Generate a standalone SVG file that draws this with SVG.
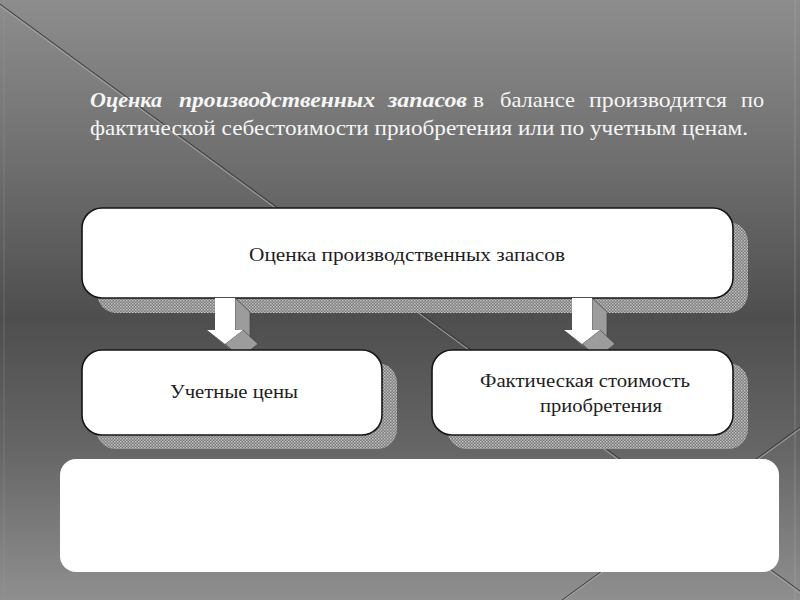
<svg xmlns="http://www.w3.org/2000/svg" width="800" height="600" viewBox="0 0 800 600">
<defs>
<linearGradient id="bg" x1="0" y1="0" x2="0" y2="1">
<stop offset="0" stop-color="#8d8d8d"/>
<stop offset="0.25" stop-color="#717171"/>
<stop offset="0.53" stop-color="#4e4e4e"/>
<stop offset="0.75" stop-color="#666"/>
<stop offset="1" stop-color="#8f8f8f"/>
</linearGradient>
<pattern id="dots" width="3" height="3" patternUnits="userSpaceOnUse">
<rect width="3" height="3" fill="#7a7a7a"/>
<rect width="1.5" height="1.5" fill="#c4c4c4"/>
<rect x="1.5" y="1.5" width="1.5" height="1.5" fill="#b0b0b0"/>
</pattern>
<style>
.box{fill:#fff;stroke:#151515;stroke-width:1.6}
.shadow{fill:url(#dots)}
.lbl{font-family:"Liberation Serif","Times New Roman",serif;font-size:19px;fill:#1e1e1e}
.head{font-family:"Liberation Serif","Times New Roman",serif;font-size:22px;fill:#f6f6f6}
.bi{font-weight:bold;font-style:italic}
.front{fill:#fff}
.side{fill:#9c9c9c;stroke:#3a3a3a;stroke-width:0.6}
.bottom{fill:#6f6f6f;stroke:#3a3a3a;stroke-width:0.6}
.dl{stroke:#3c3c3c;stroke-width:1}
.ll{stroke:#a5a5a5;stroke-width:1}
</style>
</defs>
<rect width="800" height="600" fill="url(#bg)"/>
<line x1="4" y1="0" x2="4" y2="600" stroke="#9a9a9a" stroke-opacity="0.35"/>
<line x1="795" y1="0" x2="795" y2="600" stroke="#b0b0b0" stroke-opacity="0.4"/>
<g id="decor">
<line class="dl" x1="0" y1="4" x2="800" y2="591"/>
<line class="ll" x1="0" y1="6" x2="800" y2="593"/>
<line class="dl" x1="562" y1="600" x2="800" y2="427"/>
<line class="ll" x1="564" y1="600" x2="800" y2="429"/>
</g>
<g id="heading">
<text class="head bi" x="90" y="107" textLength="72" lengthAdjust="spacingAndGlyphs">Оценка</text>
<text class="head bi" x="179" y="107" textLength="196" lengthAdjust="spacingAndGlyphs">производственных</text>
<text class="head bi" x="388" y="107" textLength="79" lengthAdjust="spacingAndGlyphs">запасов</text>
<text class="head" x="473" y="107" textLength="11" lengthAdjust="spacingAndGlyphs">в</text>
<text class="head" x="500" y="107" textLength="75" lengthAdjust="spacingAndGlyphs">балансе</text>
<text class="head" x="589" y="107" textLength="138" lengthAdjust="spacingAndGlyphs">производится</text>
<text class="head" x="741" y="107" textLength="23" lengthAdjust="spacingAndGlyphs">по</text>
<text class="head" x="90" y="135" textLength="658" lengthAdjust="spacingAndGlyphs">фактической себестоимости приобретения или по учетным ценам.</text>
</g>
<g id="node-top">
<rect class="shadow" x="97" y="222" width="651" height="91" rx="20"/>
<rect class="box" x="82" y="208" width="651" height="90" rx="20"/>
<text class="lbl" x="249" y="261" textLength="316" lengthAdjust="spacingAndGlyphs">Оценка производственных запасов</text>
</g>
<g id="connectors">
<g id="arrow-left">
<polygon class="side" points="235,298 250,312 250,344 235,330"/>
<polygon class="side" points="243,330 258,344 240,358 225,344"/>
<polygon class="bottom" points="207,330 225,344 240,358 222,344"/>
<polygon class="front" points="215,298 235,298 235,330 243,330 225,344 207,330 215,330"/>
</g>
<g id="arrow-right">
<polygon class="side" points="592,298 607,312 607,344 592,330"/>
<polygon class="side" points="600,330 615,344 597,358 582,344"/>
<polygon class="bottom" points="564,330 582,344 597,358 579,344"/>
<polygon class="front" points="572,298 592,298 592,330 600,330 582,344 564,330 572,330"/>
</g>
</g>
<g id="node-left">
<rect class="shadow" x="96" y="363" width="301" height="86" rx="20"/>
<rect class="box" x="82" y="350" width="300" height="85" rx="20"/>
<text class="lbl" x="170" y="398" textLength="128" lengthAdjust="spacingAndGlyphs">Учетные цены</text>
</g>
<g id="node-right">
<rect class="shadow" x="447" y="363" width="301" height="86" rx="20"/>
<rect class="box" x="432" y="350" width="301" height="85" rx="20"/>
<text class="lbl" x="480" y="387" textLength="210" lengthAdjust="spacingAndGlyphs">Фактическая стоимость</text>
<text class="lbl" x="540" y="412" textLength="122" lengthAdjust="spacingAndGlyphs">приобретения</text>
</g>
<g id="node-bottom">
<rect x="60" y="459" width="719" height="113" rx="16" fill="#fff"/>
</g>
</svg>
